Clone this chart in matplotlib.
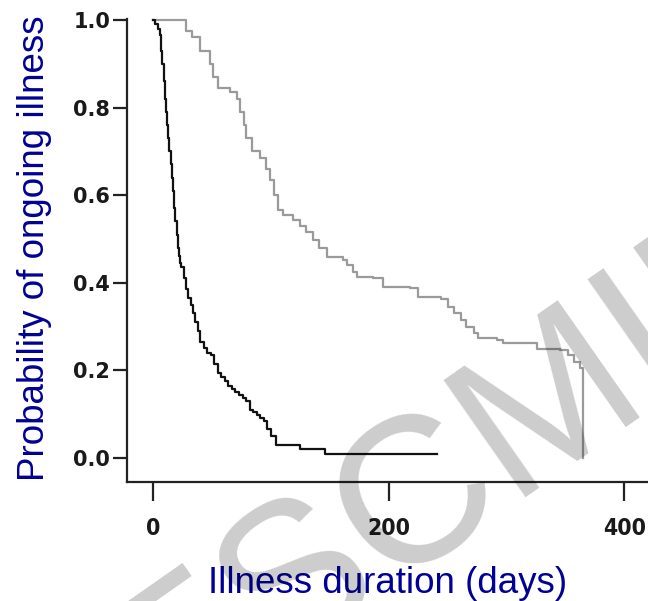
import numpy as np
import matplotlib
matplotlib.use("Agg")
import matplotlib.pyplot as plt

# Kaplan-Meier style step data (days, probability)
fast_days = [0, 2, 4, 6, 7, 8, 9, 10, 11, 12, 13, 14, 15, 16, 17, 18, 19, 20,
             21, 22, 23, 24, 26, 28, 30, 32, 34, 36, 38, 40, 43, 46, 49, 52,
             55, 58, 61, 64, 67, 70, 73, 76, 79, 82, 85, 88, 91, 94, 97, 100,
             104, 125, 146, 241]
fast_prob = [1.0, 0.99, 0.98, 0.965, 0.93, 0.90, 0.86, 0.82, 0.79, 0.76, 0.73,
             0.70, 0.67, 0.64, 0.61, 0.57, 0.54, 0.51, 0.48, 0.46, 0.445,
             0.435, 0.41, 0.385, 0.365, 0.35, 0.33, 0.31, 0.29, 0.265, 0.25,
             0.24, 0.235, 0.215, 0.195, 0.185, 0.175, 0.165, 0.158, 0.15,
             0.143, 0.137, 0.13, 0.11, 0.105, 0.097, 0.09, 0.085, 0.065, 0.05,
             0.03, 0.02, 0.01, 0.01]

slow_days = [0, 28, 33, 40, 48, 51, 55, 65, 71, 74, 77, 79, 84, 91, 96, 99,
             103, 106, 110, 119, 125, 130, 136, 141, 148, 161, 165, 170, 173,
             187, 195, 218, 225, 244, 250, 255, 261, 266, 272, 276, 292, 297,
             320, 326, 345, 352, 357, 362, 365]
slow_prob = [1.0, 0.975, 0.962, 0.93, 0.90, 0.87, 0.845, 0.836, 0.82, 0.79,
             0.76, 0.73, 0.70, 0.685, 0.66, 0.635, 0.60, 0.566, 0.555, 0.543,
             0.53, 0.515, 0.498, 0.48, 0.459, 0.452, 0.44, 0.425, 0.413, 0.41,
             0.39, 0.388, 0.368, 0.362, 0.345, 0.33, 0.315, 0.30, 0.285, 0.274,
             0.27, 0.263, 0.262, 0.249, 0.247, 0.235, 0.22, 0.205, 0.0]

x_ticks = [0, 200, 400]
y_ticks = [0.0, 0.2, 0.4, 0.6, 0.8, 1.0]

label_blue = "#000096"

fig = plt.figure(figsize=(6.48, 6.01), dpi=100)
ax = fig.add_axes([0.196, 0.198, 0.804, 0.771])

ax.step(slow_days, slow_prob, where="post", color="#9a9a9a", lw=1.6, clip_on=False)
ax.step(fast_days, fast_prob, where="post", color="#111111", lw=1.6, clip_on=False)

ax.set_xlim(-22, 420)
ax.set_ylim(-0.055, 1.003)

for side in ["top", "right"]:
    ax.spines[side].set_visible(False)
for side in ["left", "bottom"]:
    ax.spines[side].set_linewidth(1.6)
    ax.spines[side].set_color("#222222")

ax.set_xticks(x_ticks)
ax.set_xticklabels([str(v) for v in x_ticks], family="DejaVu Sans",
                   fontstretch="condensed", fontweight="bold", fontsize=16.5,
                   color="#1a1a1a")
ax.set_yticks(y_ticks)
ax.set_yticklabels([f"{v:.1f}" for v in y_ticks],
                   family="DejaVu Sans", fontweight="bold", fontsize=15,
                   color="#1a1a1a")
ax.tick_params(axis="x", length=14, width=1.6, pad=11, color="#222222")
ax.tick_params(axis="y", length=10, width=1.6, pad=2, color="#222222")

ax.set_xlabel("Illness duration (days)", family="Liberation Sans",
              fontsize=26.5, color=label_blue, va="baseline")
ax.xaxis.set_label_coords(0.5, -0.239)
ax.set_ylabel("Probability of ongoing illness", family="Liberation Sans",
              fontsize=26.5, color=label_blue, va="baseline")
ax.yaxis.set_label_coords(-0.16, 0.505)

# semi-transparent watermark
fig.text(0.245, -0.235, "ESCMID", family="Liberation Sans", fontsize=150,
         color="black", alpha=0.2, rotation=35, rotation_mode="anchor",
         ha="left", va="baseline")

fig.savefig("out.png", dpi=100)
